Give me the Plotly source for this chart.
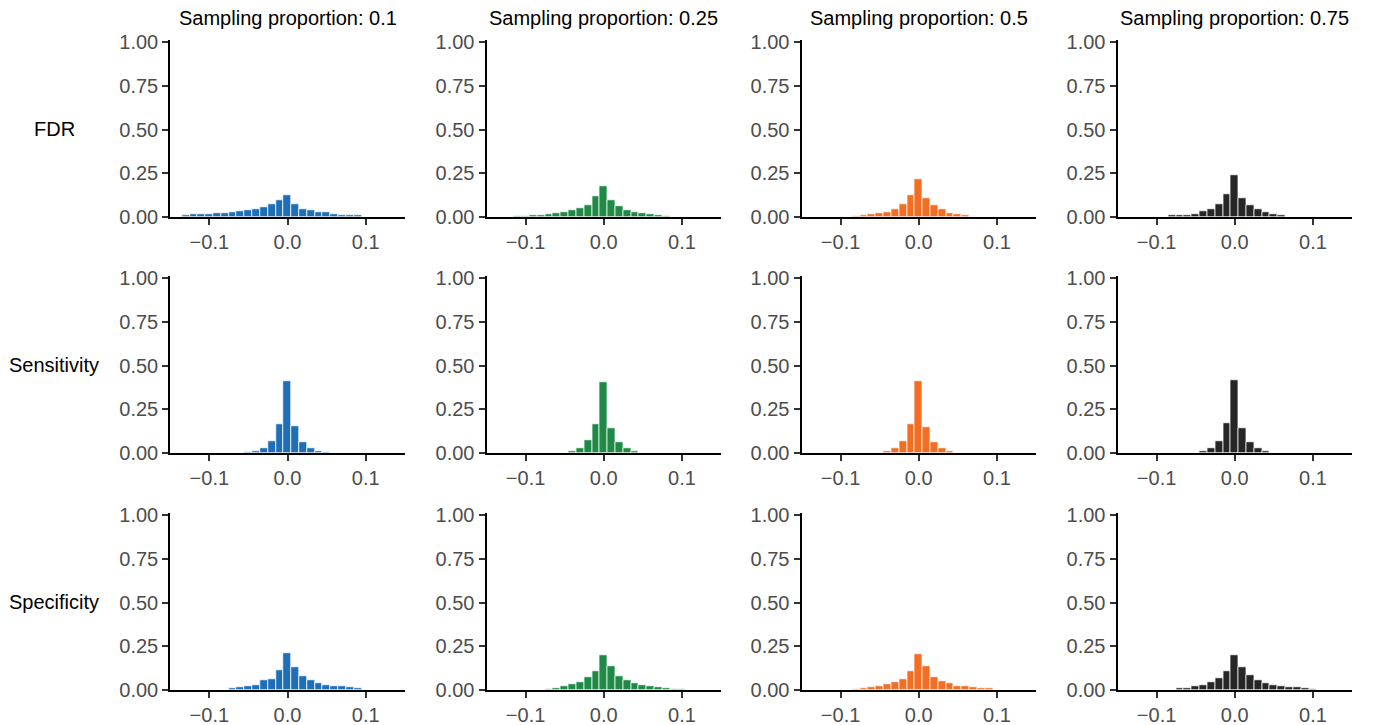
import plotly.graph_objects as go

# Bin centres (bin width 0.01)
bins = [-0.13, -0.12, -0.11, -0.10, -0.09, -0.08, -0.07, -0.06, -0.05, -0.04, -0.03, -0.02,
        -0.01, 0.00, 0.01, 0.02, 0.03, 0.04, 0.05, 0.06, 0.07, 0.08, 0.09, 0.10]

proportions = ["0.1", "0.25", "0.5", "0.75"]
metrics = ["FDR", "Sensitivity", "Specificity"]
colors = ["#1F6FB8", "#1F8A45", "#F36E22", "#262626"]

fdr_01 = [0.010, 0.013, 0.015, 0.017, 0.023, 0.023, 0.027, 0.031, 0.036, 0.044, 0.057, 0.071,
          0.094, 0.124, 0.071, 0.046, 0.038, 0.027, 0.029, 0.017, 0.011, 0.010, 0.008, 0.000]
fdr_025 = [0, 0, 0.002, 0.006, 0.008, 0.011, 0.015, 0.021, 0.027, 0.040, 0.049, 0.070,
           0.116, 0.178, 0.097, 0.061, 0.038, 0.028, 0.019, 0.013, 0.009, 0.003, 0, 0]
fdr_05 = [0, 0, 0, 0, 0, 0.006, 0.009, 0.013, 0.021, 0.030, 0.047, 0.074,
          0.127, 0.218, 0.108, 0.066, 0.042, 0.023, 0.017, 0.009, 0, 0, 0, 0]
fdr_075 = [0, 0, 0, 0, 0, 0.008, 0.008, 0.011, 0.017, 0.032, 0.044, 0.074,
           0.131, 0.240, 0.108, 0.066, 0.045, 0.025, 0.013, 0.008, 0, 0, 0, 0]

sens_01 = [0, 0, 0, 0, 0, 0, 0, 0, 0.002, 0.008, 0.027, 0.070,
           0.165, 0.411, 0.152, 0.061, 0.025, 0.009, 0.002, 0, 0, 0, 0, 0]
sens_025 = [0, 0, 0, 0, 0, 0, 0, 0, 0, 0.008, 0.025, 0.072,
            0.163, 0.407, 0.144, 0.063, 0.027, 0.008, 0, 0, 0, 0, 0, 0]
sens_05 = [0, 0, 0, 0, 0, 0, 0, 0, 0, 0.009, 0.028, 0.068,
           0.163, 0.411, 0.148, 0.064, 0.025, 0.011, 0, 0, 0, 0, 0, 0]
sens_075 = [0, 0, 0, 0, 0, 0, 0, 0, 0, 0.009, 0.027, 0.068,
            0.169, 0.414, 0.144, 0.061, 0.025, 0.009, 0, 0, 0, 0, 0, 0]

spec_01 = [0, 0, 0, 0, 0, 0, 0.008, 0.015, 0.021, 0.030, 0.053, 0.064,
           0.113, 0.209, 0.130, 0.079, 0.053, 0.039, 0.030, 0.023, 0.019, 0.013, 0.009, 0]
spec_025 = [0, 0, 0, 0, 0, 0, 0.004, 0.009, 0.023, 0.032, 0.045, 0.071,
            0.105, 0.199, 0.137, 0.079, 0.053, 0.039, 0.026, 0.021, 0.015, 0.011, 0.006, 0.003]
spec_05 = [0, 0, 0, 0, 0, 0.004, 0.009, 0.015, 0.019, 0.032, 0.047, 0.060,
           0.109, 0.207, 0.135, 0.073, 0.051, 0.039, 0.024, 0.021, 0.017, 0.011, 0.008, 0]
spec_075 = [0, 0, 0, 0, 0, 0, 0.009, 0.011, 0.019, 0.030, 0.047, 0.066,
            0.109, 0.201, 0.132, 0.083, 0.055, 0.038, 0.028, 0.023, 0.017, 0.013, 0.009, 0.003]

grid = [
    [fdr_01, fdr_025, fdr_05, fdr_075],
    [sens_01, sens_025, sens_05, sens_075],
    [spec_01, spec_025, spec_05, spec_075],
]

x_ticks = [-0.1, 0.0, 0.1]
x_ticktext = ["\u22120.1", "0.0", "0.1"]
y_ticks = [0, 0.25, 0.5, 0.75, 1.0]
y_ticktext = ["0.00", "0.25", "0.50", "0.75", "1.00"]

# The page body adds an 8px margin, so the figure is drawn 8px smaller and
# every pixel position is shifted by that offset.
OFF = 8
W, H = 1380 - OFF, 725 - OFF
col_px = [(170.25, 404.75), (486.5, 721.0), (801.5, 1036.0), (1117.5, 1352.0)]
row_px = [(40.25, 217.0), (276.25, 453.0), (513.25, 690.0)]

FONT = "Liberation Sans, Arial, Helvetica, sans-serif"
TICK_FS = 20
TEXT_FS = 20
fig = go.Figure()
layout = dict(width=W, height=H, margin=dict(l=0, r=0, t=0, b=0, autoexpand=False),
              plot_bgcolor="white", paper_bgcolor="white", showlegend=False,
              bargap=0, font=dict(family=FONT))
annotations = []


def px_x(v):
    return (v - OFF) / W


def px_y(v):
    return 1 - (v - OFF) / H


k = 0
for r in range(3):
    for c in range(4):
        k += 1
        xa = "x" if k == 1 else f"x{k}"
        ya = "y" if k == 1 else f"y{k}"
        vals = grid[r][c]
        xs = [b for b, v in zip(bins, vals) if v > 0]
        ys = [v for v in vals if v > 0]
        fig.add_trace(go.Bar(x=xs, y=ys, width=0.01, xaxis=xa, yaxis=ya,
                             marker=dict(color=colors[c],
                                         line=dict(color="rgba(255,255,255,0.75)", width=1))))
        x0, x1 = col_px[c]
        y0, y1 = row_px[r]
        layout["xaxis" if k == 1 else f"xaxis{k}"] = dict(
            domain=[px_x(x0), px_x(x1)], range=[-0.15, 0.15], anchor=ya, automargin=False,
            tickvals=x_ticks, ticktext=x_ticktext, ticks="outside", ticklen=6,
            tickwidth=1.5, tickcolor="#333333", showline=True, linecolor="black",
            linewidth=2, showgrid=False, zeroline=False, ticklabelstandoff=0,
            tickfont=dict(size=TICK_FS, color="#4D4D4D", family=FONT))
        layout["yaxis" if k == 1 else f"yaxis{k}"] = dict(
            domain=[px_y(y1), px_y(y0)], range=[0, 1.01], anchor=xa, automargin=False,
            tickvals=y_ticks, ticktext=y_ticktext, ticks="outside", ticklen=6,
            tickwidth=1.5, tickcolor="#333333", showline=True, linecolor="black",
            linewidth=2, showgrid=False, zeroline=False, ticklabelstandoff=0,
            tickfont=dict(size=TICK_FS, color="#4D4D4D", family=FONT))

for c, p in enumerate(proportions):
    x0, x1 = col_px[c]
    annotations.append(dict(text=f"Sampling proportion: {p}", x=px_x((x0 + x1) / 2),
                            y=px_y(18), xref="paper", yref="paper", showarrow=False,
                            xanchor="center", yanchor="middle",
                            font=dict(size=TEXT_FS, color="black", family=FONT)))
for r, m in enumerate(metrics):
    y0, y1 = row_px[r]
    annotations.append(dict(text=m, x=px_x(54), y=px_y((y0 + y1) / 2),
                            xref="paper", yref="paper", showarrow=False,
                            xanchor="center", yanchor="middle",
                            font=dict(size=TEXT_FS, color="black", family=FONT)))
layout["annotations"] = annotations
fig.update_layout(**layout)
fig.write_html("out.html")
